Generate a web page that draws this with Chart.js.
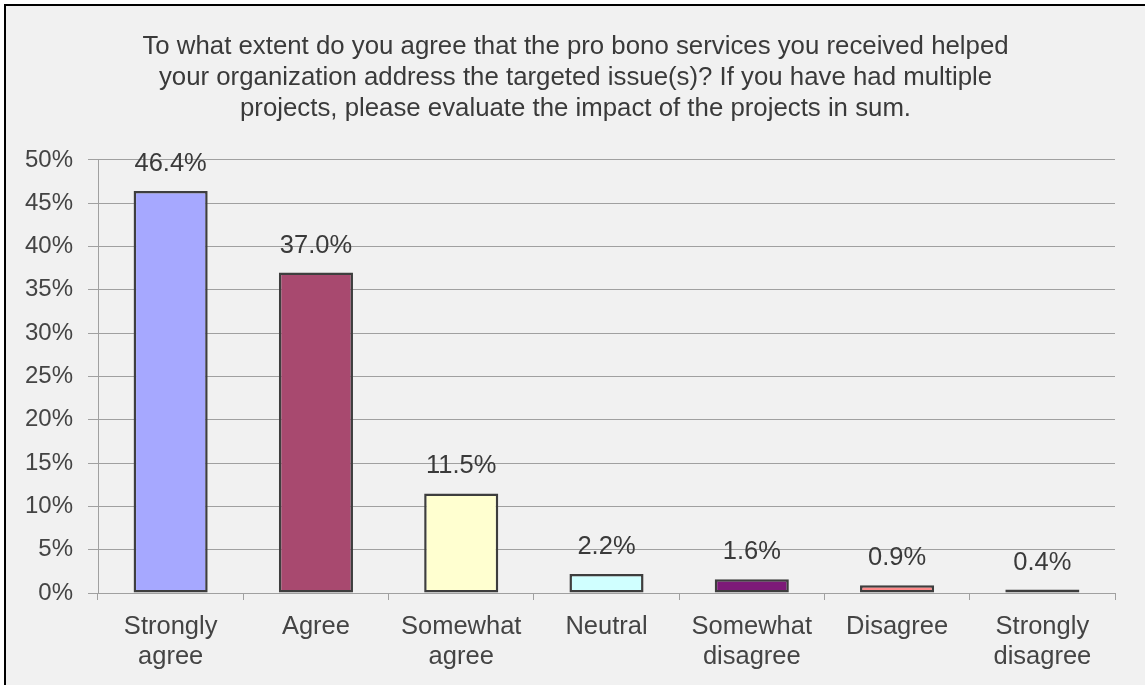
<!DOCTYPE html>
<html>
<head>
<meta charset="utf-8">
<script src="https://cdn.jsdelivr.net/npm/chart.js@4"></script>
<style>
  html, body { margin: 0; padding: 0; background: #ffffff; }
  #frame {
    position: absolute; left: 4px; top: 4px;
    width: 1141px; height: 681px;
    border-left: 2px solid #000; border-top: 2px solid #000;
    background: #f1f1f1;
  }
  #wrap { position: absolute; left: 0; top: 0; width: 1139px; height: 679px; }
</style>
</head>
<body>
<div id="frame"><div id="wrap"><canvas id="c" width="1139" height="679"></canvas></div></div>
<script>
const titleLines = [
  'To what extent do you agree that the pro bono services you received helped',
  'your organization address the targeted issue(s)? If you have had multiple',
  'projects, please evaluate the impact of the projects in sum.'
];
const categories = [
  ['Strongly', 'agree'], 'Agree', ['Somewhat', 'agree'], 'Neutral',
  ['Somewhat', 'disagree'], 'Disagree', ['Strongly', 'disagree']
];
const percentages = [46.4, 37.0, 11.5, 2.2, 1.6, 0.9, 0.4];
const barColors = ['#a6a8ff', '#a8496f', '#ffffd0', '#d0ffff', '#7d1a78', '#ff8a8a', '#444444'];

const FONT = '"Liberation Sans", Arial, sans-serif';

// writes each bar's value above it
const valueLabels = {
  id: 'valueLabels',
  afterDatasetsDraw(chart) {
    const ctx = chart.ctx;
    const meta = chart.getDatasetMeta(0);
    ctx.save();
    ctx.font = '25.5px ' + FONT;
    ctx.fillStyle = '#3a3a3a';
    ctx.textAlign = 'center';
    ctx.textBaseline = 'middle';
    meta.data.forEach((bar, i) => {
      ctx.fillText(percentages[i].toFixed(1) + '%', bar.x, bar.y - 27);
    });
    ctx.restore();
  }
};

new Chart(document.getElementById('c'), {
  type: 'bar',
  data: {
    labels: categories,
    datasets: [{
      data: percentages,
      backgroundColor: barColors,
      borderColor: '#3e3e3e',
      borderWidth: 2.5,
      borderSkipped: false,
      barPercentage: 0.51,
      categoryPercentage: 1.0
    }]
  },
  options: {
    responsive: false,
    animation: false,
    layout: { padding: 0 },
    plugins: {
      legend: { display: false },
      tooltip: { enabled: false },
      title: {
        display: true,
        text: titleLines,
        color: '#3a3a3a',
        font: { family: FONT, size: 25.8, weight: 'normal', lineHeight: 1.2 },
        padding: { top: 25, bottom: 36 }
      }
    },
    scales: {
      y: {
        min: 0, max: 50,
        afterFit(s) { s.width = 92; },
        ticks: {
          stepSize: 5,
          padding: 15,
          color: '#444444',
          font: { family: FONT, size: 24 },
          callback: v => v + '%'
        },
        grid: { color: '#a0a0a0', lineWidth: 1, tickLength: 10 },
        border: { color: '#a0a0a0', width: 1 }
      },
      // empty right-hand margin beside the plot
      margin: {
        position: 'right',
        display: true,
        afterFit(s) { s.width = 30; },
        ticks: { display: false },
        grid: { display: false },
        border: { display: false }
      },
      x: {
        afterFit(s) { s.height = 92; },
        ticks: {
          padding: 12,
          color: '#444444',
          font: { family: FONT, size: 25.5, lineHeight: 1.18 },
          maxRotation: 0,
          autoSkip: false
        },
        grid: { offset: true, drawOnChartArea: false, drawTicks: true, tickLength: 7, color: '#a0a0a0' },
        border: { color: '#a0a0a0', width: 1 }
      }
    }
  },
  plugins: [valueLabels]
});
</script>
</body>
</html>
